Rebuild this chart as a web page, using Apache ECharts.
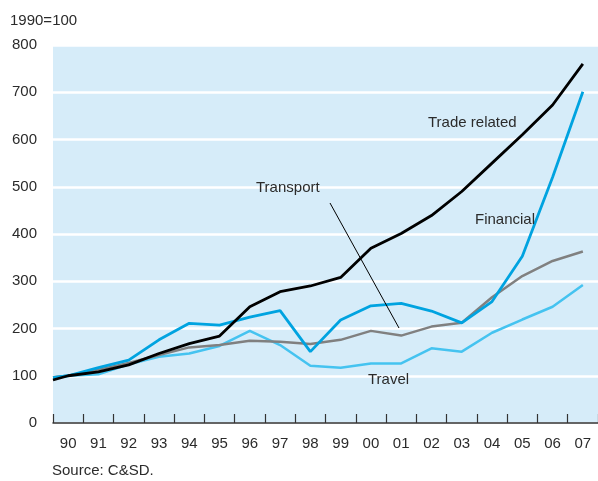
<!DOCTYPE html>
<html>
<head>
<meta charset="utf-8">
<script src="https://cdn.jsdelivr.net/npm/echarts@6/dist/echarts.min.js"></script>
<style>
  html, body { margin: 0; padding: 0; background: #fff; }
  #chart { width: 598px; height: 481px; }
</style>
</head>
<body>
<div id="chart"></div>
<script>
// x positions: 1989.5 is where the lines enter at the left edge of the plot
const years = [1989.5, 1990, 1991, 1992, 1993, 1994, 1995, 1996, 1997, 1998, 1999,
  2000, 2001, 2002, 2003, 2004, 2005, 2006, 2007];
const yearLabels = ['90', '91', '92', '93', '94', '95', '96', '97', '98', '99',
  '00', '01', '02', '03', '04', '05', '06', '07'];

const tradeRelated = [91, 100, 108, 123, 147, 168, 184, 246, 278, 290, 308, 370, 401, 439, 490, 550, 610, 673, 760];
const financial    = [96, 100, 117, 133, 176, 211, 207, 224, 238, 151, 218, 248, 253, 237, 212, 257, 353, 520, 701];
const transport    = [97, 100, 113, 127, 144, 160, 165, 174, 172, 167, 176, 195, 185, 204, 212, 266, 311, 343, 363];
const travel       = [97, 100, 103, 124, 140, 147, 163, 195, 165, 121, 117, 126, 126, 158, 151, 191, 219, 246, 292];

const textColor = '#2b2b2b';
const fontFam = '"Liberation Sans", Arial, sans-serif';

function pairs(vals) {
  return vals.map((v, i) => [years[i], v]);
}

function lineSerie(name, vals, color, width) {
  return {
    name: name,
    type: 'line',
    xAxisIndex: 1,
    data: pairs(vals),
    symbol: 'none',
    smooth: false,
    lineStyle: { color: color, width: width },
    z: 3
  };
}

const chart = echarts.init(document.getElementById('chart'), null, { renderer: 'canvas' });

const option = {
  backgroundColor: '#ffffff',
  animation: false,
  grid: {
    left: 53,
    right: -5,
    top: 45,
    bottom: 58,
    show: true,
    backgroundColor: '#d6ecf9',
    borderWidth: 0
  },
  xAxis: [
    {
      type: 'category',
      data: yearLabels,
      boundaryGap: true,
      axisLine: { lineStyle: { color: '#333', width: 1.5 } },
      axisTick: { show: true, inside: true, length: 9, interval: 0, lineStyle: { color: '#333', width: 1.2 } },
      axisLabel: { color: textColor, fontSize: 15, fontFamily: fontFam, margin: 13, interval: 0 },
      splitLine: { show: false }
    },
    {
      type: 'value',
      min: 1989.5,
      max: 2007.5,
      show: false
    }
  ],
  yAxis: {
    type: 'value',
    min: 0,
    max: 800,
    interval: 100,
    axisLine: { show: false },
    axisTick: { show: false },
    axisLabel: { color: textColor, fontSize: 15, fontFamily: fontFam, margin: 16 },
    splitLine: { show: true, lineStyle: { color: '#ffffff', width: 2.5 } }
  },
  series: [
    lineSerie('Travel', travel, '#45c3f0', 2.5),
    lineSerie('Transport', transport, '#808080', 2.5),
    lineSerie('Financial', financial, '#00a3e0', 2.8),
    lineSerie('Trade related', tradeRelated, '#000000', 2.8)
  ],
  graphic: [
    { type: 'text', left: 10, top: 13, style: { text: '1990=100', fill: textColor, font: '15px ' + fontFam } },
    { type: 'text', left: 52, top: 463, style: { text: 'Source: C&SD.', fill: textColor, font: '15px ' + fontFam } },
    { type: 'text', left: 428, top: 115, z: 10, style: { text: 'Trade related', fill: textColor, font: '15px ' + fontFam } },
    { type: 'text', left: 475, top: 212, z: 10, style: { text: 'Financial', fill: textColor, font: '15px ' + fontFam } },
    { type: 'text', left: 256, top: 180, z: 10, style: { text: 'Transport', fill: textColor, font: '15px ' + fontFam } },
    { type: 'text', left: 368, top: 372, z: 10, style: { text: 'Travel', fill: textColor, font: '15px ' + fontFam } },
    { type: 'line', z: 10, shape: { x1: 330, y1: 203, x2: 399, y2: 328 }, style: { stroke: '#000', lineWidth: 1 } }
  ]
};

chart.setOption(option);
</script>
</body>
</html>
